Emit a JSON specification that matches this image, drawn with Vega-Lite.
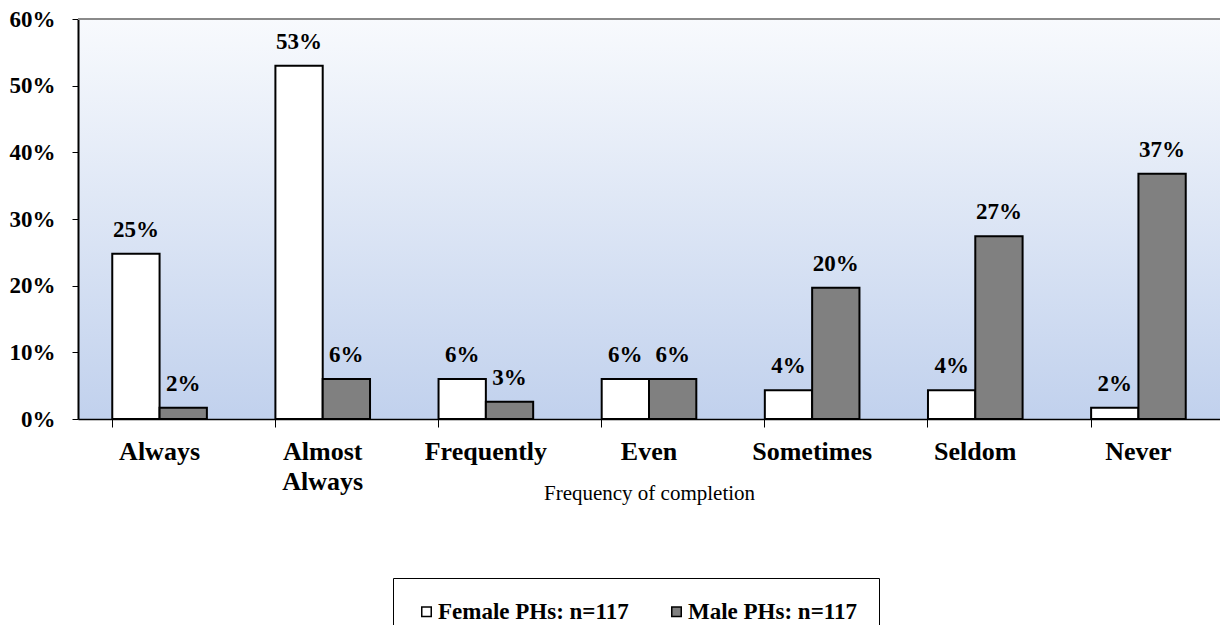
{
  "$schema": "https://vega.github.io/schema/vega-lite/v6.json",
  "width": 1142,
  "height": 400,
  "autosize": {"type": "none"},
  "padding": {"left": 78, "top": 19, "right": 0, "bottom": 206},
  "background": "white",
  "config": {
    "font": "Liberation Serif",
    "view": {
      "stroke": null,
      "fill": {
        "gradient": "linear",
        "x1": 0, "y1": 0, "x2": 0, "y2": 1,
        "stops": [
          {"offset": 0, "color": "#f8fafd"},
          {"offset": 1, "color": "#c1d1ed"}
        ]
      }
    }
  },
  "data": {
    "values": [
      {"freq": "Always", "group": "Female PHs: n=117", "pct": 0.248},
      {"freq": "Always", "group": "Male PHs: n=117", "pct": 0.017},
      {"freq": "Almost Always", "group": "Female PHs: n=117", "pct": 0.53},
      {"freq": "Almost Always", "group": "Male PHs: n=117", "pct": 0.06},
      {"freq": "Frequently", "group": "Female PHs: n=117", "pct": 0.06},
      {"freq": "Frequently", "group": "Male PHs: n=117", "pct": 0.026},
      {"freq": "Even", "group": "Female PHs: n=117", "pct": 0.06},
      {"freq": "Even", "group": "Male PHs: n=117", "pct": 0.06},
      {"freq": "Sometimes", "group": "Female PHs: n=117", "pct": 0.043},
      {"freq": "Sometimes", "group": "Male PHs: n=117", "pct": 0.197},
      {"freq": "Seldom", "group": "Female PHs: n=117", "pct": 0.043},
      {"freq": "Seldom", "group": "Male PHs: n=117", "pct": 0.274},
      {"freq": "Never", "group": "Female PHs: n=117", "pct": 0.017},
      {"freq": "Never", "group": "Male PHs: n=117", "pct": 0.368}
    ]
  },
  "encoding": {
    "x": {
      "field": "freq",
      "type": "nominal",
      "sort": ["Always", "Almost Always", "Frequently", "Even", "Sometimes", "Seldom", "Never"],
      "scale": {"paddingInner": 0.42, "paddingOuter": 0.21},
      "title": "Frequency of completion",
      "axis": {
        "labelAngle": 0,
        "labelFontSize": 26,
        "labelFontWeight": "bold",
        "labelColor": "black",
        "labelPadding": 11,
        "labelBaseline": "top",
        "labelLineHeight": 30,
        "labelExpr": "datum.label == 'Almost Always' ? ['Almost', 'Always'] : datum.label",
        "bandPosition": 0,
        "tickSize": 8,
        "tickColor": "black",
        "tickWidth": 1,
        "domainColor": "black",
        "domainWidth": 1.5,
        "titleFontSize": 21,
        "titleFontWeight": "normal",
        "titleColor": "black",
        "titleY": 80,
        "titleBaseline": "alphabetic"
      }
    },
    "xOffset": {
      "field": "group",
      "sort": ["Female PHs: n=117", "Male PHs: n=117"],
      "scale": {"paddingInner": 0, "paddingOuter": 0}
    },
    "y": {
      "field": "pct",
      "type": "quantitative",
      "scale": {"domain": [0, 0.6]},
      "title": null,
      "axis": {
        "values": [0, 0.1, 0.2, 0.3, 0.4, 0.5, 0.6],
        "format": ".0%",
        "grid": false,
        "labelFontSize": 23,
        "labelFontWeight": "bold",
        "labelColor": "black",
        "labelPadding": 17,
        "tickSize": 6,
        "tickColor": "black",
        "domainColor": "black",
        "domainWidth": 2
      }
    }
  },
  "layer": [
    {
      "mark": {"type": "bar", "stroke": "black", "strokeWidth": 2},
      "encoding": {
        "fill": {
          "field": "group",
          "type": "nominal",
          "scale": {
            "domain": ["Female PHs: n=117", "Male PHs: n=117"],
            "range": ["#ffffff", "#808080"]
          },
          "legend": {
            "title": null,
            "orient": "none",
            "direction": "horizontal",
            "legendX": 315,
            "legendY": 559,
            "padding": 22,
            "strokeColor": "black",
            "fillColor": "white",
            "symbolType": "square",
            "symbolSize": 90,
            "symbolStrokeColor": "black",
            "symbolStrokeWidth": 1.5,
            "labelFontSize": 23,
            "labelFontWeight": "bold",
            "labelColor": "black",
            "labelOffset": 0,
            "columnPadding": 36,
            "labelLimit": 300
          }
        }
      }
    },
    {
      "mark": {
        "type": "text",
        "fontSize": 23,
        "fontWeight": "bold",
        "color": "black",
        "baseline": "alphabetic",
        "dy": -17
      },
      "encoding": {
        "text": {"field": "pct", "type": "quantitative", "format": ".0%"}
      }
    },
    {
      "mark": {"type": "rule", "color": "#8a8a8a", "strokeWidth": 2},
      "encoding": {
        "x": null,
        "xOffset": null,
        "y": {"datum": 0.6}
      }
    }
  ]
}
